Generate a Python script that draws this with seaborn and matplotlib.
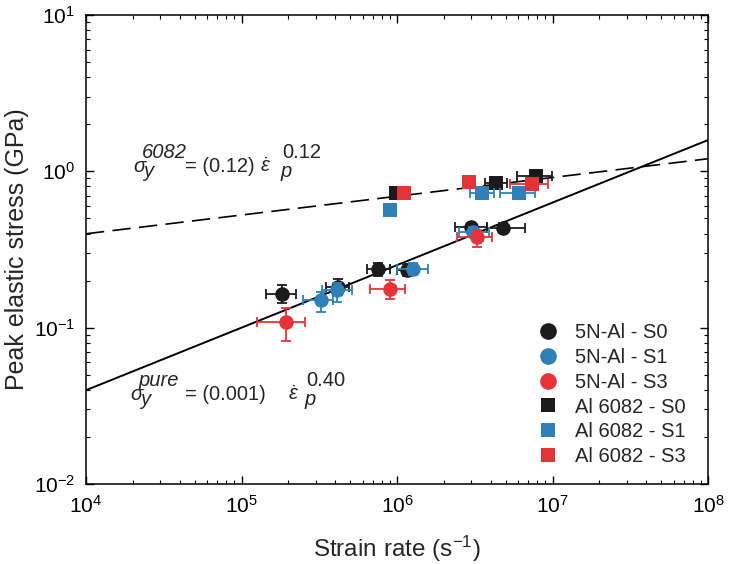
import numpy as np
import pandas as pd
import matplotlib
matplotlib.use("Agg")
import matplotlib.pyplot as plt
from matplotlib.lines import Line2D
import seaborn as sns

# ---------------- data ----------------
# 5N-Al - S0 (black circles)
s0c_x = [1.82e5, 4.17e5, 7.58e5, 1.155e6, 2.99e6, 4.81e6]
s0c_y = [0.164, 0.182, 0.236, 0.234, 0.440, 0.437]
s0c_xlo = [1.44e5, 3.50e5, 6.38e5, 1.00e6, 2.36e6, 3.79e6]
s0c_xhi = [2.24e5, 4.90e5, 9.02e5, 1.35e6, 3.79e6, 6.65e6]
s0c_ylo = [0.144, 0.162, 0.215, 0.215, 0.405, 0.405]
s0c_yhi = [0.187, 0.205, 0.258, 0.255, 0.470, 0.465]

# 5N-Al - S1 (blue circles)
s1c_x = [3.23e5, 4.13e5, 1.273e6, 3.10e6]
s1c_y = [0.150, 0.174, 0.237, 0.411]
s1c_xlo = [2.50e5, 3.28e5, 1.00e6, 2.50e6]
s1c_xhi = [3.90e5, 5.11e5, 1.58e6, 3.90e6]
s1c_ylo = [0.126, 0.147, 0.218, 0.380]
s1c_yhi = [0.170, 0.194, 0.258, 0.440]

# 5N-Al - S3 (red circles)
s3c_x = [1.924e5, 9.02e5, 3.25e6]
s3c_y = [0.108, 0.177, 0.378]
s3c_xlo = [1.264e5, 6.70e5, 2.42e6]
s3c_xhi = [2.56e5, 1.125e6, 4.06e6]
s3c_ylo = [0.0825, 0.152, 0.329]
s3c_yhi = [0.133, 0.202, 0.420]

# Al 6082 - S0 (black squares)
s0s_x = [9.85e5, 4.33e6, 7.83e6]
s0s_y = [0.726, 0.842, 0.933]
s0s_xlo = [9.85e5, 3.68e6, 5.91e6]
s0s_xhi = [9.85e5, 5.10e6, 9.93e6]

# Al 6082 - S1 (blue squares)
s1s_x = [9.02e5, 3.52e6, 6.09e6]
s1s_y = [0.565, 0.726, 0.726]
s1s_xlo = [9.02e5, 2.95e6, 4.59e6]
s1s_xhi = [9.02e5, 4.20e6, 7.71e6]

# Al 6082 - S3 (red squares)
s3s_x = [1.109e6, 2.90e6, 7.38e6]
s3s_y = [0.726, 0.854, 0.829]
s3s_xlo = [1.109e6, 2.90e6, 5.34e6]
s3s_xhi = [1.109e6, 2.90e6, 9.35e6]

# power-law fit lines as drawn  sigma = A * rate^n
fit_6082_A, fit_6082_n = 0.132, 0.12
fit_pure_A, fit_pure_n = 0.001, 0.40

labels = ["5N-Al - S0", "5N-Al - S1", "5N-Al - S3",
          "Al 6082 - S0", "Al 6082 - S1", "Al 6082 - S3"]

BLACK = "#1b1b1b"
BLUE = "#2f80b8"
RED = "#e5333a"

# ---------------- style ----------------
sns.set_style("ticks")
plt.rcParams["font.family"] = ["Liberation Sans", "DejaVu Sans"]
plt.rcParams["mathtext.fontset"] = "custom"
plt.rcParams["mathtext.rm"] = "Liberation Sans"
plt.rcParams["mathtext.it"] = "Liberation Sans:italic"
plt.rcParams["mathtext.bf"] = "Liberation Sans:bold"

W, H = 735, 564
fig = plt.figure(figsize=(W / 100, H / 100), dpi=100)
ax = fig.add_axes([86 / W, 80 / H, (708 - 86) / W, (484 - 15) / H])

# fit lines
xf = np.logspace(4, 8, 200)
fit6082 = pd.DataFrame({"x": xf, "y": fit_6082_A * xf ** fit_6082_n})
fitpure = pd.DataFrame({"x": xf, "y": fit_pure_A * xf ** fit_pure_n})
sns.lineplot(data=fit6082, x="x", y="y", ax=ax, color="black",
             lw=1.2, linestyle=(0, (11, 5)), legend=False, zorder=1)
sns.lineplot(data=fitpure, x="x", y="y", ax=ax, color="black",
             lw=1.4, legend=False, zorder=1)

groups = [
    (s0c_x, s0c_y, s0c_xlo, s0c_xhi, s0c_ylo, s0c_yhi, BLACK, "o"),
    (s1c_x, s1c_y, s1c_xlo, s1c_xhi, s1c_ylo, s1c_yhi, BLUE, "o"),
    (s3c_x, s3c_y, s3c_xlo, s3c_xhi, s3c_ylo, s3c_yhi, RED, "o"),
    (s0s_x, s0s_y, s0s_xlo, s0s_xhi, None, None, BLACK, "s"),
    (s1s_x, s1s_y, s1s_xlo, s1s_xhi, None, None, BLUE, "s"),
    (s3s_x, s3s_y, s3s_xlo, s3s_xhi, None, None, RED, "s"),
]

z = 3
for gx, gy, xlo, xhi, ylo, yhi, col, mk in groups:
    gx = np.array(gx); gy = np.array(gy)
    xerr = np.vstack([gx - np.array(xlo), np.array(xhi) - gx])
    yerr = None
    if ylo is not None:
        yerr = np.vstack([gy - np.array(ylo), np.array(yhi) - gy])
    ax.errorbar(gx, gy, xerr=xerr, yerr=yerr, fmt="none", ecolor=col,
                elinewidth=1.3, capsize=3.5, capthick=1.3, zorder=z)
    df = pd.DataFrame({"x": gx, "y": gy})
    sns.scatterplot(data=df, x="x", y="y", ax=ax, color=col, marker=mk,
                    s=110, linewidth=0, zorder=z + 1, legend=False)
    z += 2

ax.set_xscale("log")
ax.set_yscale("log")
ax.set_xlim(1e4, 1e8)
ax.set_ylim(1e-2, 1e1)

ax.set_xlabel(r"Strain rate (s$^{\mathregular{-1}}$)", fontsize=17.5, labelpad=12)
ax.set_ylabel("Peak elastic stress (GPa)", fontsize=18, labelpad=3)

for s in ax.spines.values():
    s.set_linewidth(1.1)
    s.set_color("black")
ax.tick_params(which="both", direction="in", top=True, right=True,
               colors="black", labelsize=15)
ax.tick_params(which="major", length=6, width=1.0, pad=8)
ax.tick_params(which="minor", length=3, width=0.8)


# annotations: MATLAB-style sub/superscripts at full size, placed piecewise
def formula(x0_px, base_px, pieces):
    for txt, dx, dy, style in pieces:
        fig.text((x0_px + dx) / W, 1 - (base_px - dy) / H, txt, fontsize=14.5,
                 fontstyle=style, ha="left", va="baseline")


formula(133, 172, [
    (r"$\sigma$", 0, 0, "normal"),
    ("6082", 9, 14, "italic"),
    ("y", 10, -5, "italic"),
    ("= (0.12)", 52, 0, "normal"),
    (r"$\dot{\epsilon}$", 127, 0, "normal"),
    ("0.12", 149, 14, "normal"),
    ("p", 148, -5, "italic"),
])
formula(130, 400, [
    (r"$\sigma$", 0, 0, "normal"),
    ("pure", 9, 14, "italic"),
    ("y", 10, -5, "italic"),
    ("= (0.001)", 55, 0, "normal"),
    (r"$\dot{\epsilon}$", 158, 0, "normal"),
    ("0.40", 176, 14, "normal"),
    ("p", 175, -5, "italic"),
])

# legend
cols = [BLACK, BLUE, RED, BLACK, BLUE, RED]
mks = ["o", "o", "o", "s", "s", "s"]
handles = [Line2D([0], [0], linestyle="none", marker=m, color=c,
                  markersize=12 if m == "o" else 9.6, markeredgewidth=0)
           for m, c in zip(mks, cols)]
ax.legend(handles, labels, loc="upper left", frameon=False, fontsize=14.5,
          handlelength=1.0, handletextpad=0.85, labelspacing=0.29,
          borderpad=0, borderaxespad=0,
          bbox_to_anchor=((538 - 86) / 622, (484 - 323) / 469))

fig.savefig("out.png", dpi=100)
